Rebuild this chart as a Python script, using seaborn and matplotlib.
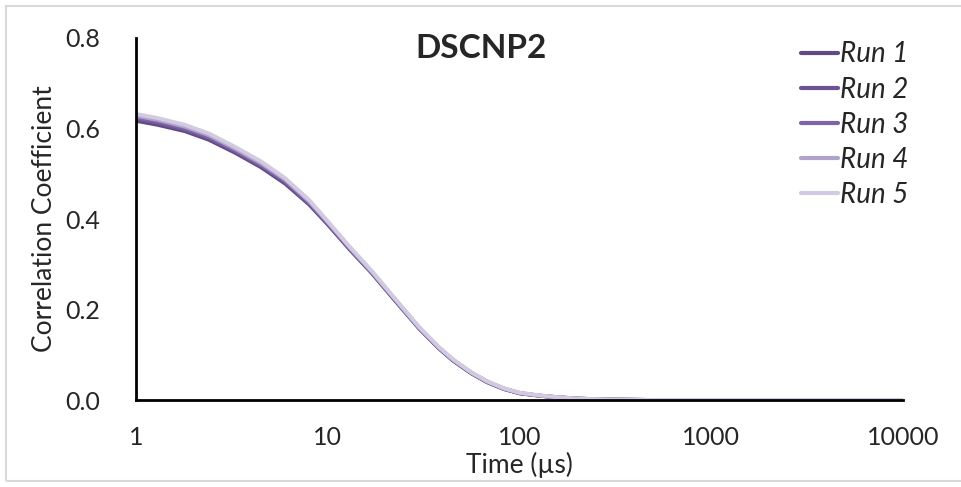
import numpy as np
import pandas as pd
import matplotlib
matplotlib.use("Agg")
import matplotlib.pyplot as plt
import seaborn as sns

# correlation coefficient, time in microseconds
time_us = [1, 1.3, 1.8, 2.4, 3.3, 4.5, 6, 8, 10, 13, 17, 22, 30, 38, 45,
           56, 68, 83, 100, 125, 150, 200, 300, 500, 1000, 3000, 10000]
run1 = [0.617, 0.608, 0.594, 0.575, 0.546, 0.514, 0.478, 0.432, 0.388, 0.333,
        0.280, 0.224, 0.158, 0.114, 0.087, 0.059, 0.039, 0.024, 0.015, 0.010,
        0.006, 0.003, 0.001, 0.0, 0.0, 0.0, 0.0]
run2 = [0.621, 0.612, 0.597, 0.578, 0.549, 0.517, 0.481, 0.434, 0.389, 0.334,
        0.281, 0.225, 0.158, 0.115, 0.088, 0.060, 0.040, 0.025, 0.015, 0.010,
        0.007, 0.003, 0.001, 0.0, 0.0, 0.0, 0.0]
run3 = [0.624, 0.615, 0.600, 0.581, 0.551, 0.519, 0.483, 0.436, 0.391, 0.335,
        0.282, 0.226, 0.159, 0.115, 0.088, 0.060, 0.040, 0.025, 0.015, 0.010,
        0.007, 0.003, 0.001, 0.0, 0.0, 0.0, 0.0]
run4 = [0.628, 0.619, 0.604, 0.585, 0.555, 0.523, 0.487, 0.439, 0.393, 0.337,
        0.283, 0.227, 0.160, 0.116, 0.089, 0.061, 0.041, 0.025, 0.016, 0.010,
        0.007, 0.003, 0.001, 0.0, 0.0, 0.0, 0.0]
run5 = [0.632, 0.623, 0.608, 0.589, 0.559, 0.527, 0.490, 0.442, 0.395, 0.339,
        0.285, 0.228, 0.161, 0.117, 0.090, 0.061, 0.041, 0.026, 0.016, 0.011,
        0.007, 0.003, 0.001, 0.0, 0.0, 0.0, 0.0]
run_names = ["Run 1", "Run 2", "Run 3", "Run 4", "Run 5"]
run_colors = ["#5f4b80", "#6e5394", "#7f63a8", "#b0a3cb", "#d2cae0"]


def main():
    sns.set_style("white")
    plt.rcParams["font.family"] = ["Lato", "DejaVu Sans"]

    frames = []
    for name, vals in zip(run_names, [run1, run2, run3, run4, run5]):
        frames.append(pd.DataFrame({"time": time_us, "corr": vals, "run": name}))
    df = pd.concat(frames, ignore_index=True)

    fig = plt.figure(figsize=(9.62, 4.87), dpi=100)
    ax = fig.add_axes([0.1414, 0.1786, 0.7973, 0.7434])
    sns.lineplot(data=df, x="time", y="corr", hue="run", palette=run_colors,
                 hue_order=run_names, linewidth=2.8, ax=ax)

    ax.set_xscale("log")
    ax.set_xlim(1, 10000)
    ax.set_ylim(0, 0.8)
    ax.set_xticks([1, 10, 100, 1000, 10000])
    ax.set_xticklabels(["1", "10", "100", "1000", "10000"])
    ax.minorticks_off()
    ax.set_yticks([0, 0.2, 0.4, 0.6, 0.8])
    ax.set_yticklabels(["0.0", "0.2", "0.4", "0.6", "0.8"])
    ax.tick_params(axis="both", labelsize=18, length=6, width=2,
                   direction="out", color="black")
    ax.tick_params(axis="x", pad=13)
    ax.tick_params(axis="y", pad=20)

    for side in ["top", "right"]:
        ax.spines[side].set_visible(False)
    for side in ["left", "bottom"]:
        ax.spines[side].set_color("black")
        ax.spines[side].set_linewidth(2)

    ax.set_xlabel("Time (µs)", fontsize=19, labelpad=2)
    ax.set_ylabel("Correlation Coefficient", fontsize=19, labelpad=6)
    ax.text(0.45, 0.972, "DSCNP2", transform=ax.transAxes, ha="center",
            va="center", fontsize=24, fontweight="bold")

    leg = ax.legend(loc="upper right", bbox_to_anchor=(1.022, 1.021), frameon=False,
                    fontsize=20, handlelength=1.35, handletextpad=0.08,
                    labelspacing=0.33, borderaxespad=0)
    for t in leg.get_texts():
        t.set_fontstyle("italic")
    for l in leg.get_lines():
        l.set_linewidth(3)

    # light frame around the whole chart
    fig.patches.append(plt.Rectangle((0.006, 0.012), 1.2, 0.976,
                                     transform=fig.transFigure, fill=False,
                                     edgecolor="#d9d9d9", linewidth=1.5))

    fig.savefig("out.png", dpi=100)


if __name__ == "__main__":
    main()
